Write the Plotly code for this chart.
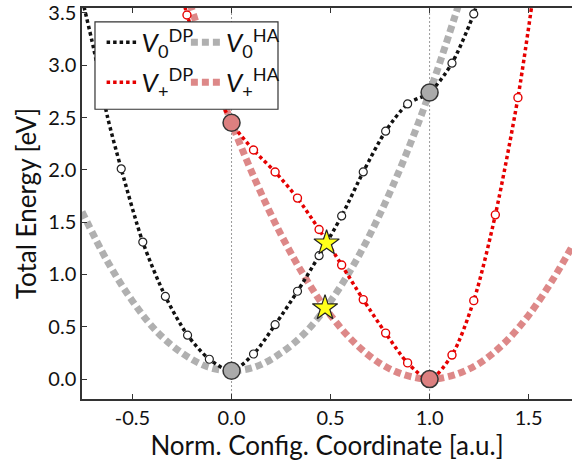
import plotly.graph_objects as go

# ---------------- data ----------------
# V0 DP : dotted black curve + open black circles
v0dp_curve_x = [-0.745, -0.695, -0.628, -0.557, -0.448, -0.334, -0.222, -0.112, 0.0, 0.111, 0.22, 0.333,
                0.442, 0.556, 0.665, 0.778, 0.889, 1.0, 1.113, 1.223, 1.235]
v0dp_curve_y = [3.56, 3.15, 2.52, 2.01, 1.31, 0.79, 0.42, 0.19, 0.08, 0.24, 0.52, 0.84,
                1.18, 1.56, 1.98, 2.37, 2.63, 2.74, 3.02, 3.49, 3.56]
v0dp_pts_x = [-0.557, -0.448, -0.334, -0.222, -0.112, 0.111, 0.22, 0.333, 0.442, 0.556, 0.665, 0.778,
              0.889, 1.113, 1.223]
v0dp_pts_y = [2.01, 1.31, 0.79, 0.42, 0.19, 0.24, 0.52, 0.84, 1.18, 1.56, 1.98, 2.37, 2.63, 3.02, 3.49]

# V+ DP : dotted red curve + open red circles
vpdp_curve_x = [-0.235, -0.225, -0.112, 0.0, 0.111, 0.22, 0.333, 0.442, 0.556, 0.665, 0.778, 0.889,
                1.0, 1.113, 1.223, 1.332, 1.446, 1.515]
vpdp_curve_y = [3.56, 3.48, 2.93, 2.45, 2.19, 1.98, 1.73, 1.43, 1.09, 0.76, 0.44, 0.155,
                0.0, 0.23, 0.75, 1.57, 2.69, 3.56]
vpdp_pts_x = [-0.225, -0.112, 0.111, 0.22, 0.333, 0.442, 0.556, 0.665, 0.778, 0.889, 1.113, 1.223,
              1.332, 1.446]
vpdp_pts_y = [3.48, 2.93, 2.19, 1.98, 1.73, 1.43, 1.09, 0.76, 0.44, 0.155, 0.23, 0.75, 1.57, 2.69]

# V0 HA : thick grey dotted curve
v0ha_x = [-0.755, -0.625, -0.5, -0.375, -0.25, -0.125, 0.0, 0.125, 0.25, 0.375, 0.5, 0.625, 0.75,
          0.875, 1.0, 1.125, 1.145]
v0ha_y = [1.60, 1.12, 0.745, 0.45, 0.25, 0.12, 0.08, 0.12, 0.25, 0.45, 0.745, 1.12, 1.58,
          2.12, 2.74, 3.45, 3.57]

# V+ HA : thick pink dotted curve
vpha_x = [-0.21, -0.125, 0.0, 0.125, 0.25, 0.375, 0.5, 0.625, 0.75, 0.875, 1.0, 1.125, 1.25,
          1.375, 1.5, 1.625, 1.72]
vpha_y = [3.59, 3.10, 2.45, 1.88, 1.38, 0.96, 0.61, 0.34, 0.15, 0.04, 0.0, 0.04, 0.15,
          0.34, 0.61, 0.96, 1.27]

# equilibrium geometries (big circles) and crossing points (stars)
grey_pts_x = [0.0, 1.0]
grey_pts_y = [0.08, 2.74]
pink_pts_x = [0.0, 1.0]
pink_pts_y = [2.45, 0.0]
star_x = [0.48, 0.472]
star_y = [1.30, 0.68]

ref_lines_x = [0.0, 1.0]

x_ticks = [-0.5, 0.0, 0.5, 1.0, 1.5]
x_ticktext = ["-0.5", "0.0", "0.5", "1.0", "1.5"]
y_ticks = [0.0, 0.5, 1.0, 1.5, 2.0, 2.5, 3.0, 3.5]
y_ticktext = ["0.0", "0.5", "1.0", "1.5", "2.0", "2.5", "3.0", "3.5"]

# ---------------- styles ----------------
FONT = "Lato"
BLACK = "#111111"
RED = "#e60000"
GREY = "#b0b0b0"
PINK = "rgba(214,110,110,0.82)"
GREY_FILL = "#aaaaaa"
PINK_FILL = "#dc8080"

fig = go.Figure()

# HA curves (thick)
fig.add_trace(go.Scatter(x=v0ha_x, y=v0ha_y, mode="lines", line=dict(color=GREY, width=7, dash="7px,4px", shape="spline", smoothing=1.0),
                         name="<i>V</i><sub>0</sub><sup>HA</sup>", legend="legend2", hoverinfo="skip"))
fig.add_trace(go.Scatter(x=vpha_x, y=vpha_y, mode="lines", line=dict(color=PINK, width=7, dash="7px,4px", shape="spline", smoothing=1.0),
                         name="<i>V</i><sub>+</sub><sup>HA</sup>", legend="legend4", hoverinfo="skip"))

# DP curves
fig.add_trace(go.Scatter(x=v0dp_curve_x, y=v0dp_curve_y, mode="lines",
                         line=dict(color=BLACK, width=3.5, dash="3.5px,3px", shape="spline", smoothing=0.8),
                         name="<i>V</i><sub>0</sub><sup>DP</sup>", legend="legend", hoverinfo="skip"))
fig.add_trace(go.Scatter(x=vpdp_curve_x, y=vpdp_curve_y, mode="lines",
                         line=dict(color=RED, width=3.5, dash="3.5px,3px", shape="spline", smoothing=0.8),
                         name="<i>V</i><sub>+</sub><sup>DP</sup>", legend="legend3", hoverinfo="skip"))

# DP calculated points
fig.add_trace(go.Scatter(x=v0dp_pts_x, y=v0dp_pts_y, mode="markers", showlegend=False,
                         marker=dict(symbol="circle", size=8, color="white", line=dict(color="#222222", width=1.2))))
fig.add_trace(go.Scatter(x=vpdp_pts_x, y=vpdp_pts_y, mode="markers", showlegend=False,
                         marker=dict(symbol="circle", size=8, color="white", line=dict(color=RED, width=1.4))))

# big circles
fig.add_trace(go.Scatter(x=grey_pts_x, y=grey_pts_y, mode="markers", showlegend=False,
                         marker=dict(symbol="circle", size=17, color=GREY_FILL, line=dict(color="#333333", width=1.5))))
fig.add_trace(go.Scatter(x=pink_pts_x, y=pink_pts_y, mode="markers", showlegend=False,
                         marker=dict(symbol="circle", size=17, color=PINK_FILL, line=dict(color="#333333", width=1.5))))

# stars
fig.add_trace(go.Scatter(x=star_x, y=star_y, mode="markers", showlegend=False,
                         marker=dict(symbol="star", size=19, color="#ffff1a", line=dict(color="#222222", width=1.2))))

for xv in ref_lines_x:
    fig.add_vline(x=xv, line=dict(color="#999999", width=1, dash="2px,2px"), layer="below")

# legend frame
fig.add_shape(type="rect", xref="paper", yref="paper", x0=0.0265, x1=0.4, y0=0.741, y1=0.9645,
              fillcolor="white", line=dict(color="#333333", width=1.2), layer="above")

leg_common = dict(bgcolor="rgba(0,0,0,0)", borderwidth=0, font=dict(family=FONT, size=26, color="#111111"),
                  xanchor="left", yanchor="middle", itemwidth=30, tracegroupgap=0)
fig.update_layout(
    legend=dict(x=0.04, y=0.912, **leg_common),
    legend2=dict(x=0.212, y=0.912, **leg_common),
    legend3=dict(x=0.04, y=0.81, **leg_common),
    legend4=dict(x=0.212, y=0.81, **leg_common),
)

axis_common = dict(showline=True, linecolor="#333333", linewidth=1.5, ticks="inside", ticklen=5,
                   tickcolor="#333333", tickwidth=1.2, showgrid=False, zeroline=False,
                   ticklabeloverflow="allow",
                   tickfont=dict(family=FONT, size=20, color="#111111"))
fig.update_xaxes(range=[-0.755, 1.719], tickvals=x_ticks, ticktext=x_ticktext, mirror="ticks",
                 title=dict(text="Norm. Config. Coordinate [a.u.]", font=dict(family=FONT, size=26, color="#111111"), standoff=2),
                 **axis_common)
fig.update_yaxes(range=[-0.19, 3.547], tickvals=y_ticks, ticktext=y_ticktext, mirror=False,
                 title=dict(text="Total Energy [eV]", font=dict(family=FONT, size=26, color="#111111"), standoff=4),
                 **axis_common)

fig.update_layout(width=572, height=466, margin=dict(l=82, r=0, t=5, b=67),
                  plot_bgcolor="white", paper_bgcolor="white", showlegend=True)

fig.write_html("out.html")
